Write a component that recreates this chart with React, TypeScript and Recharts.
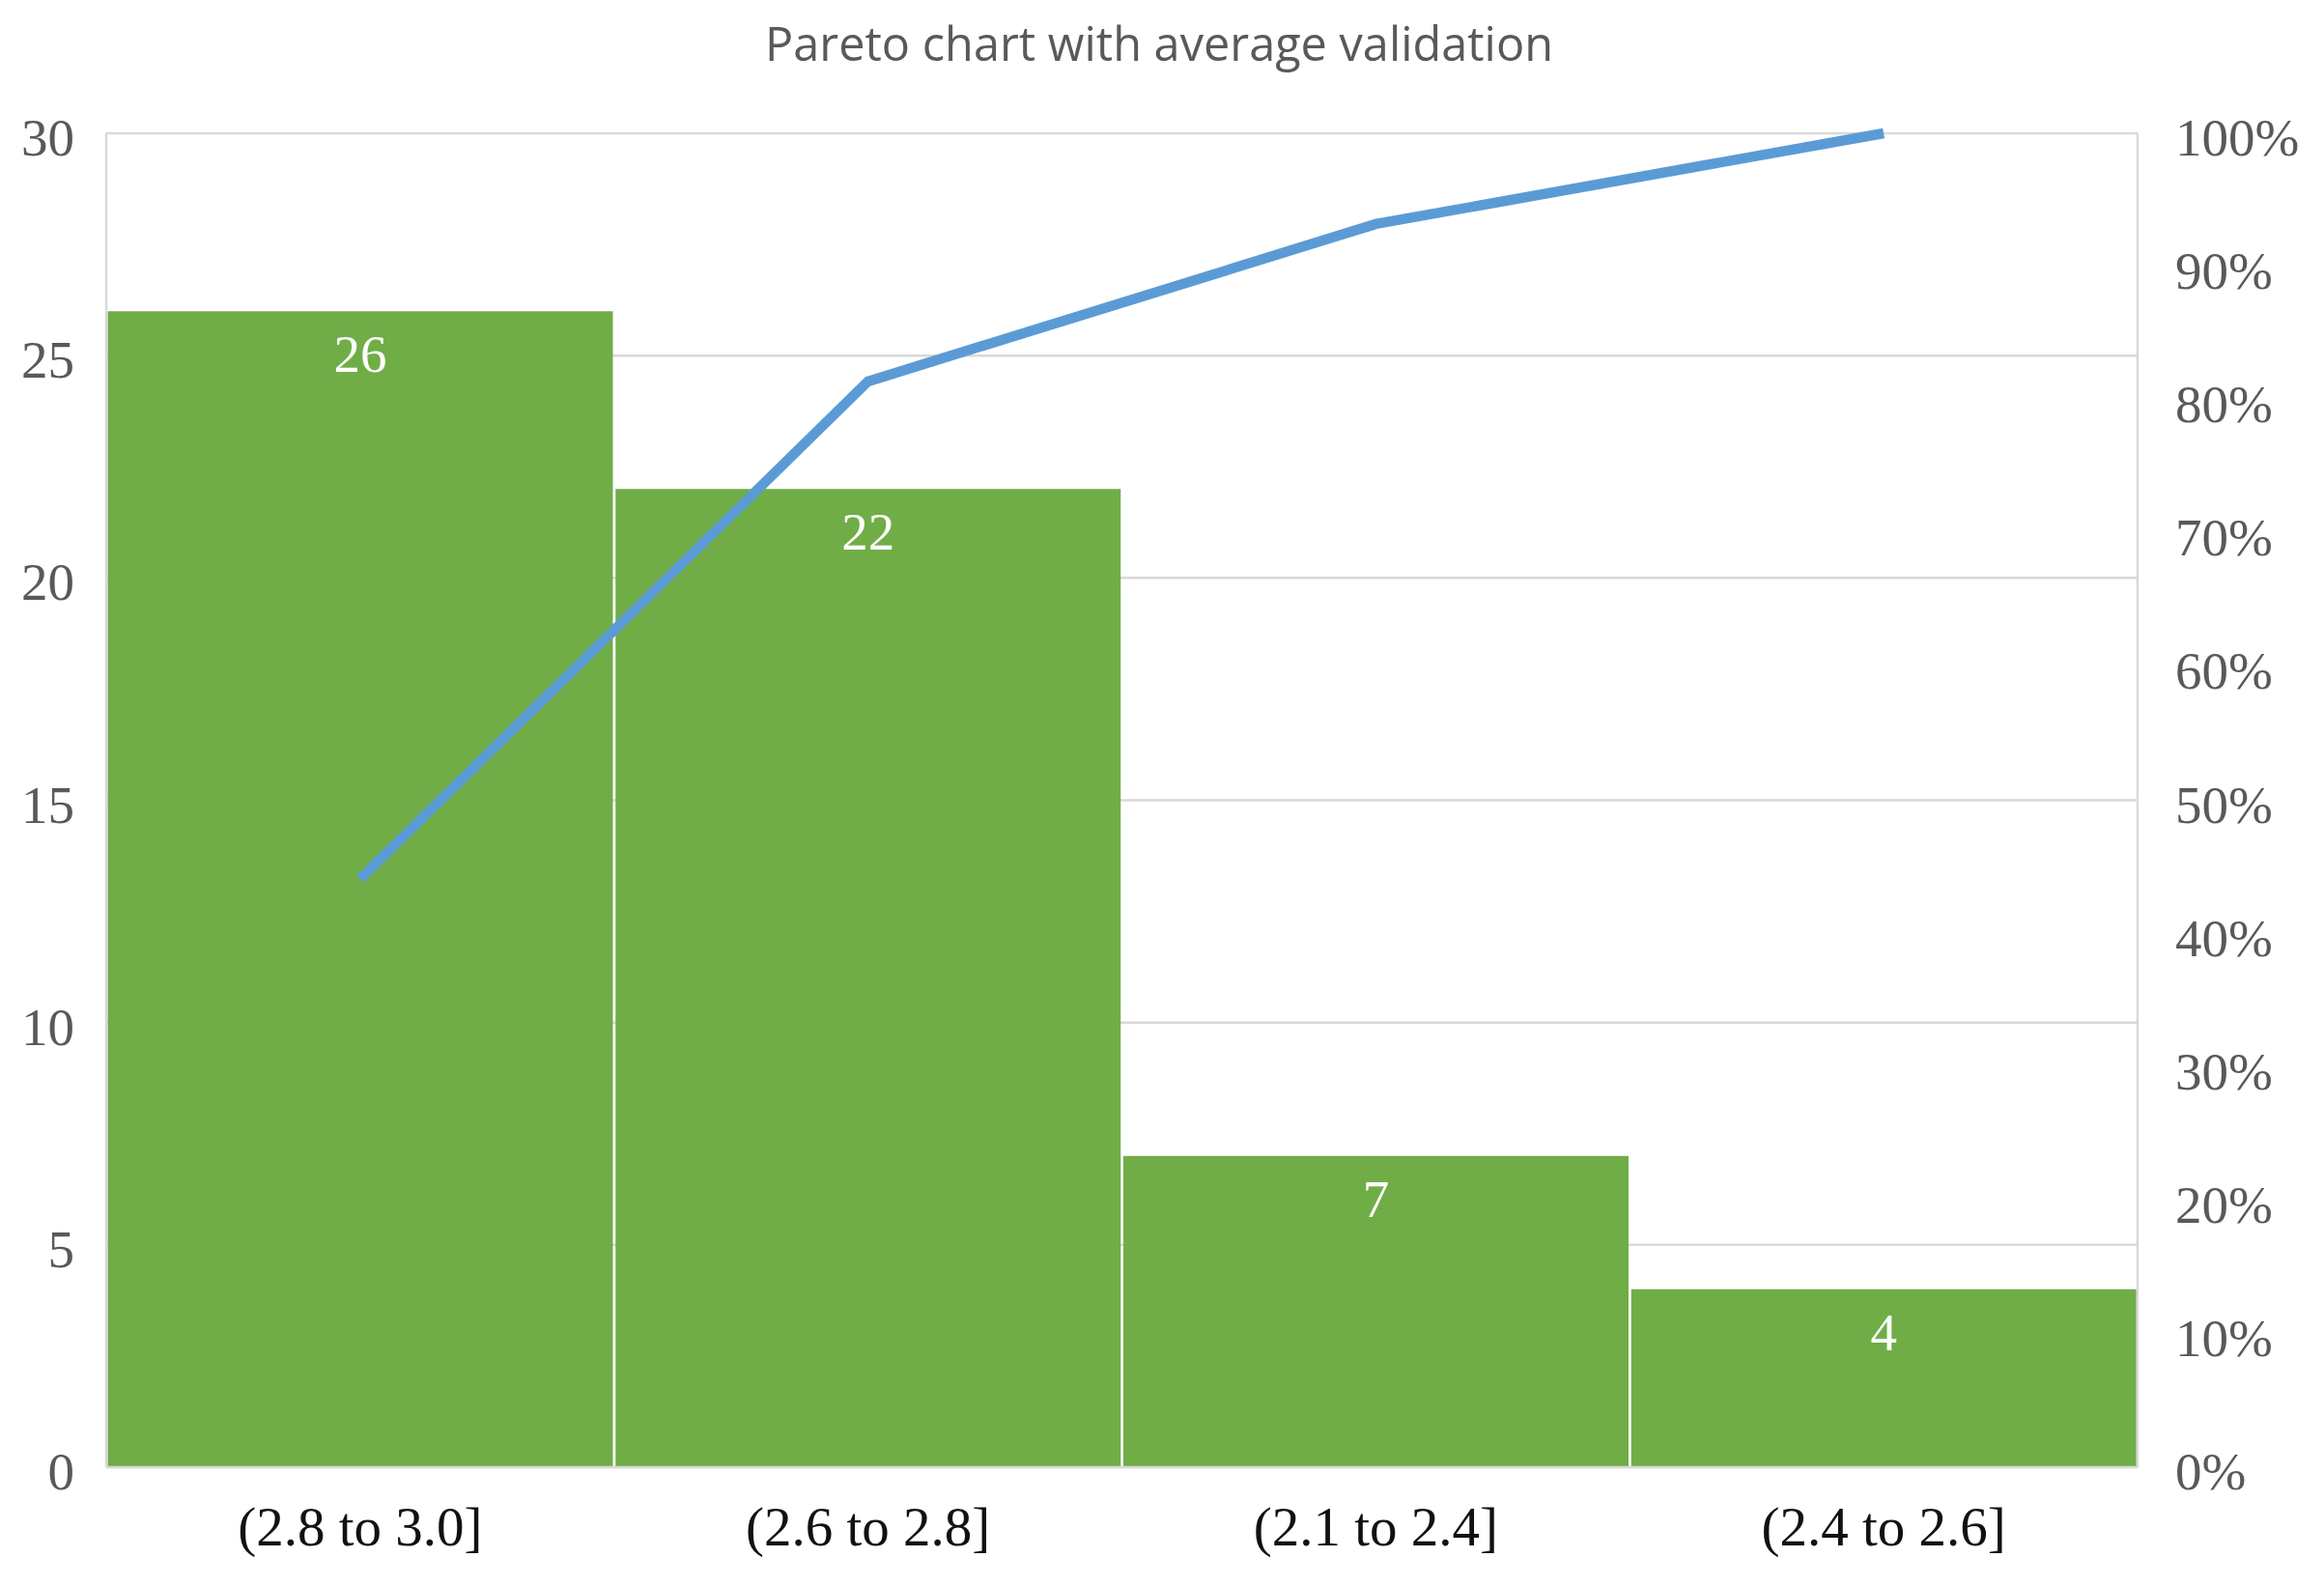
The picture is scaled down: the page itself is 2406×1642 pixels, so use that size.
import { ComposedChart, Bar, Line, XAxis, YAxis, CartesianGrid, LabelList } from 'recharts';

const categories = ['(2.8 to 3.0]', '(2.6 to 2.8]', '(2.1 to 2.4]', '(2.4 to 2.6]'];
const counts = [26, 22, 7, 4];
// cumulative share
const cumulative = [0.441, 0.814, 0.932, 1.0];
const leftTicks = [0, 5, 10, 15, 20, 25, 30];
const rightTicks = [0, 0.1, 0.2, 0.3, 0.4, 0.5, 0.6, 0.7, 0.8, 0.9, 1.0];

const data = categories.map((name, i) => ({ name, count: counts[i], cum: cumulative[i] }));

const serif = '"Liberation Serif", "DejaVu Serif", serif';

const LeftTick = ({ x, y, payload }: any) => (
  <text x={x} y={y + 23} textAnchor="end" fontFamily={serif} fontSize={55} fill="#595959">
    {payload.value}
  </text>
);

const RightTick = ({ x, y, payload }: any) => (
  <text x={x} y={y + 23} textAnchor="start" fontFamily={serif} fontSize={55} fill="#595959">
    {`${Math.round(payload.value * 100)}%`}
  </text>
);

const BottomTick = ({ x, y, payload }: any) => (
  <text x={x} y={y + 81} textAnchor="middle" fontFamily={serif} fontSize={57} fill="#111">
    {payload.value}
  </text>
);

const App = () => {
  return (
    <div style={{ position: 'absolute', left: 0, top: 0, width: 2406, height: 1642, background: '#fff' }}>
      <svg width={2406} height={100} style={{ position: 'absolute', left: 0, top: 0 }}>
        <text
          x={1200}
          y={63}
          textAnchor="middle"
          fontFamily='"Open Sans", "Noto Sans", sans-serif'
          fontSize={50}
          fill="#595959"
          textLength={816}
          lengthAdjust="spacingAndGlyphs"
        >
          Pareto chart with average validation
        </text>
      </svg>
      <ComposedChart
        width={2406}
        height={1642}
        data={data}
        barCategoryGap={1.5}
        margin={{ top: 138, right: 13, left: 10, bottom: 23 }}
      >
        <CartesianGrid yAxisId="left" vertical={false} stroke="#D9D9D9" strokeWidth={2.5} />
        <XAxis
          dataKey="name"
          height={100}
          axisLine={{ stroke: '#D9D9D9', strokeWidth: 2.5 }}
          tickLine={false}
          tickSize={0}
          tickMargin={0}
          tick={<BottomTick />}
          interval={0}
        />
        <YAxis
          yAxisId="left"
          width={100}
          domain={[0, 30]}
          ticks={leftTicks}
          axisLine={{ stroke: '#D9D9D9', strokeWidth: 2.5 }}
          tickLine={false}
          tickSize={0}
          tickMargin={33}
          tick={<LeftTick />}
        />
        <YAxis
          yAxisId="pct"
          orientation="right"
          width={180}
          domain={[0, 1]}
          ticks={rightTicks}
          axisLine={{ stroke: '#D9D9D9', strokeWidth: 2.5 }}
          tickLine={false}
          tickSize={0}
          tickMargin={39}
          tick={<RightTick />}
        />
        <Bar yAxisId="left" dataKey="count" fill="#70AD47" isAnimationActive={false}>
          <LabelList
            dataKey="count"
            position="insideTop"
            offset={24}
            fill="#fff"
            fontFamily={serif}
            fontSize={55}
          />
        </Bar>
        <Line
          yAxisId="pct"
          type="linear"
          dataKey="cum"
          stroke="#5B9BD5"
          strokeWidth={10.5}
          dot={false}
          activeDot={false}
          isAnimationActive={false}
        />
      </ComposedChart>
    </div>
  );
};

export default App;
